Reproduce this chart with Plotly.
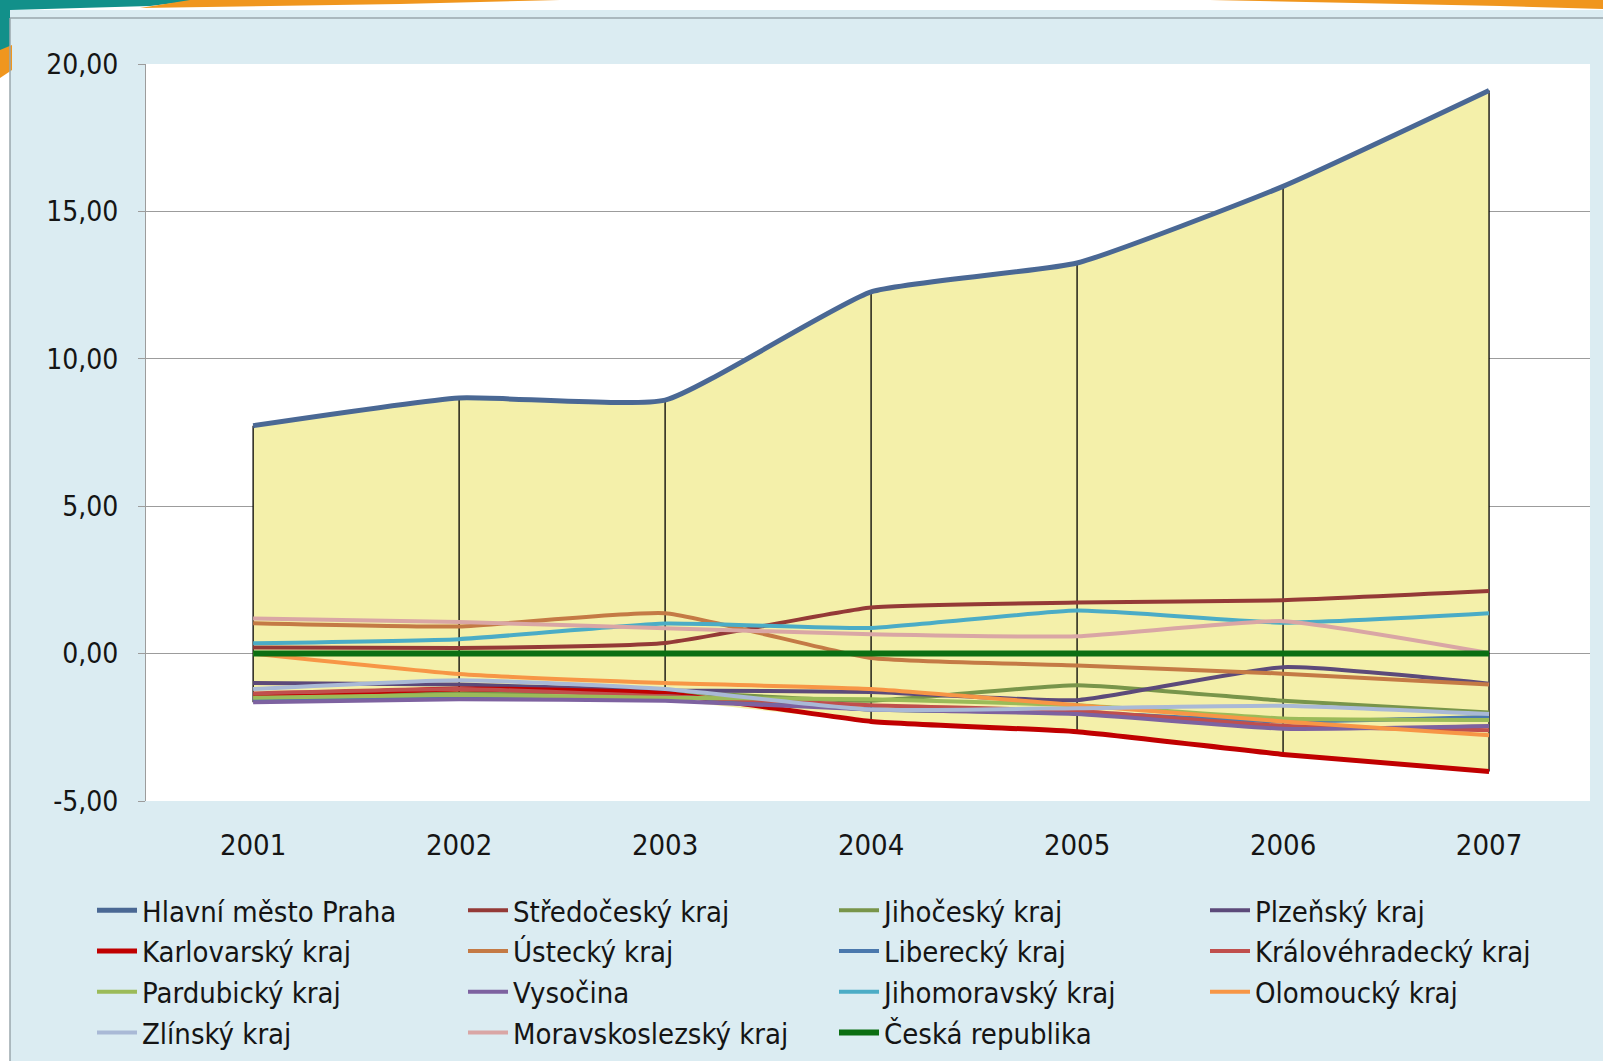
import plotly.graph_objects as go

years = ["2001", "2002", "2003", "2004", "2005", "2006", "2007"]

regions = [
    "Hlavní město Praha", "Středočeský kraj", "Jihočeský kraj", "Plzeňský kraj",
    "Karlovarský kraj", "Ústecký kraj", "Liberecký kraj", "Královéhradecký kraj",
    "Pardubický kraj", "Vysočina", "Jihomoravský kraj", "Olomoucký kraj",
    "Zlínský kraj", "Moravskoslezský kraj", "Česká republika",
]

praha = [7.73, 8.67, 8.60, 12.27, 13.25, 15.85, 19.10]
stredocesky = [0.21, 0.19, 0.36, 1.56, 1.73, 1.81, 2.12]
jihocesky = [-1.45, -1.35, -1.30, -1.60, -1.07, -1.60, -2.00]
plzensky = [-1.00, -1.05, -1.25, -1.30, -1.58, -0.46, -1.02]
karlovarsky = [-1.45, -1.20, -1.35, -2.30, -2.65, -3.42, -4.00]
ustecky = [1.03, 0.92, 1.37, -0.15, -0.40, -0.68, -1.05]
liberecky = [-1.55, -1.50, -1.45, -1.90, -2.00, -2.30, -2.15]
kralovehradecky = [-1.35, -1.20, -1.45, -1.75, -1.95, -2.45, -2.60]
pardubicky = [-1.50, -1.40, -1.50, -1.55, -1.75, -2.20, -2.25]
vysocina = [-1.65, -1.55, -1.60, -1.90, -2.05, -2.55, -2.46]
jihomoravsky = [0.35, 0.49, 1.02, 0.87, 1.46, 1.05, 1.37]
olomoucky = [0.00, -0.69, -1.00, -1.20, -1.75, -2.30, -2.77]
zlinsky = [-1.20, -0.90, -1.20, -1.90, -1.85, -1.77, -2.05]
moravskoslezsky = [1.19, 1.07, 0.86, 0.66, 0.59, 1.10, 0.02]
cr = [0.0, 0.0, 0.0, 0.0, 0.0, 0.0, 0.0]

series = [praha, stredocesky, jihocesky, plzensky, karlovarsky, ustecky, liberecky,
          kralovehradecky, pardubicky, vysocina, jihomoravsky, olomoucky, zlinsky,
          moravskoslezsky, cr]

y_ticks = [-5, 0, 5, 10, 15, 20]
y_tick_labels = ["-5,00", "0,00", "5,00", "10,00", "15,00", "20,00"]

colors = ["#4a6894", "#943a37", "#78954a", "#5c4a7a", "#c00000", "#c47a45", "#4a78ad",
          "#c04f4d", "#9bbb59", "#7d62a0", "#4bacc6", "#f79646", "#a9b9d6", "#d9a6a5",
          "#0b6e12"]
widths = [5, 4, 4, 4, 5, 4, 4, 4, 4, 4, 4, 4, 4, 4, 6]

FONT = "DejaVu Sans Condensed, Liberation Sans Narrow, Arial Narrow, sans-serif"
SMOOTH = 0.45

hi = [max(v) for v in zip(*series)]
lo = [min(v) for v in zip(*series)]

fig = go.Figure()

# yellow band between the highest and lowest region in each year
fig.add_trace(go.Scatter(x=years, y=hi, mode="lines", line=dict(width=0, shape="spline", smoothing=SMOOTH),
                         showlegend=False, hoverinfo="skip"))
fig.add_trace(go.Scatter(x=years, y=lo, mode="lines", line=dict(width=0, shape="spline", smoothing=SMOOTH),
                         fill="tonexty", fillcolor="#f4f0aa", showlegend=False, hoverinfo="skip"))

# high-low lines
hlx, hly = [], []
for yr, a, b in zip(years, hi, lo):
    hlx += [yr, yr, None]
    hly += [a, b, None]
fig.add_trace(go.Scatter(x=hlx, y=hly, mode="lines", line=dict(color="#000000", width=1.3),
                         showlegend=False, hoverinfo="skip"))

for name, vals, col, w in zip(regions, series, colors, widths):
    fig.add_trace(go.Scatter(x=years, y=vals, name=name, mode="lines",
                             line=dict(color=col, width=w, shape="spline", smoothing=SMOOTH)))

# page decoration around the chart frame
L, R, T, B = 146, 1590, 64, 801


def px(x):
    return (x - L) / (R - L)


def py(y):
    return (B - y) / (B - T)


shapes = [
    dict(type="rect", xref="paper", yref="paper", x0=px(0), x1=px(1603), y0=py(10), y1=py(0),
         fillcolor="white", line_width=0, layer="below"),
    dict(type="rect", xref="paper", yref="paper", x0=px(0), x1=px(10), y0=py(1061), y1=py(0),
         fillcolor="white", line_width=0, layer="below"),
    dict(type="path", xref="paper", yref="paper",
         path=f"M {px(0)},{py(0)} L {px(200)},{py(0)} L {px(150)},{py(6)} L {px(10)},{py(10)} "
              f"L {px(10)},{py(50)} L {px(0)},{py(55)} Z",
         fillcolor="#12908a", line_width=0, layer="above"),
    dict(type="path", xref="paper", yref="paper",
         path=f"M {px(190)},{py(0)} L {px(560)},{py(0)} L {px(400)},{py(4)} L {px(140)},{py(8)} Z",
         fillcolor="#f0961e", line_width=0, layer="above"),
    dict(type="path", xref="paper", yref="paper",
         path=f"M {px(0)},{py(50)} L {px(12)},{py(45)} L {px(12)},{py(70)} L {px(0)},{py(78)} Z",
         fillcolor="#f0961e", line_width=0, layer="above"),
    dict(type="path", xref="paper", yref="paper",
         path=f"M {px(1210)},{py(0)} L {px(1603)},{py(0)} L {px(1603)},{py(9)} L {px(1500)},{py(6)} Z",
         fillcolor="#f0961e", line_width=0, layer="above"),
    dict(type="line", xref="paper", yref="paper", x0=px(10), x1=px(1603), y0=py(18), y1=py(18),
         line=dict(color="#9aa7ad", width=1.5)),
    dict(type="line", xref="paper", yref="paper", x0=px(10), x1=px(10), y0=py(18), y1=py(1061),
         line=dict(color="#9aa7ad", width=1.5)),
]

fig.update_layout(
    width=1603, height=1061,
    margin=dict(l=L, r=1603 - R, t=T, b=1061 - B, autoexpand=False),
    paper_bgcolor="#dbecf2", plot_bgcolor="white",
    font=dict(family=FONT, size=30, color="#151515"),
    shapes=shapes,
    showlegend=True,
    legend=dict(orientation="h", x=px(92), xanchor="left",
                y=py(885), yanchor="top",
                entrywidth=316, entrywidthmode="pixels",
                font=dict(family=FONT, size=29, color="#151515"),
                bgcolor="rgba(0,0,0,0)", traceorder="normal", itemwidth=40,
                tracegroupgap=0),
    xaxis=dict(type="category", range=[-0.52, 6.49], showgrid=False, zeroline=False,
               showline=False, ticks="", ticklabelstandoff=24,
               tickfont=dict(family=FONT, size=29, color="#151515")),
    yaxis=dict(range=[-5, 20], tickvals=y_ticks, ticktext=y_tick_labels,
               showgrid=True, gridcolor="#9c9c9c",
               gridwidth=1.2, zeroline=False, showline=True, linecolor="#9c9c9c", linewidth=1.2,
               ticks="outside", ticklen=7, tickcolor="#9c9c9c", ticklabelstandoff=14,
               tickfont=dict(family=FONT, size=28, color="#151515")),
)

fig.write_html("out.html")
